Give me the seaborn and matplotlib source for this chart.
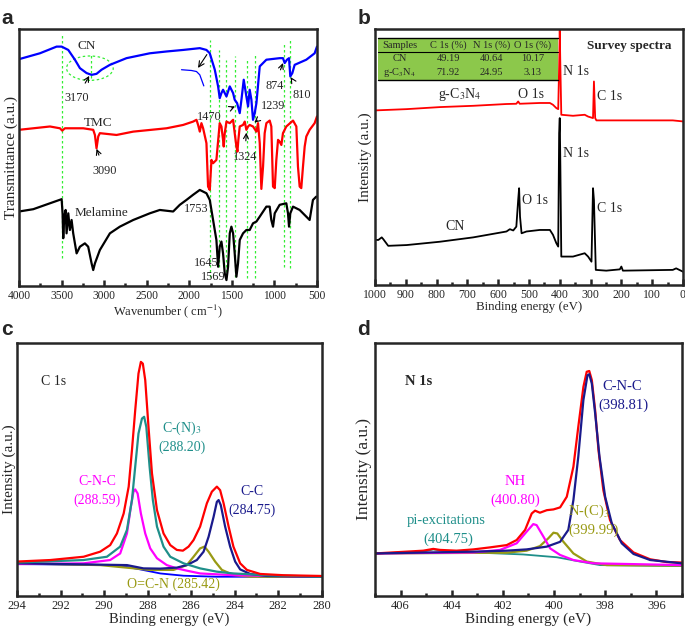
import numpy as np
import pandas as pd
import seaborn as sns
import matplotlib.pyplot as plt
from matplotlib.patches import Ellipse, Rectangle
from matplotlib.ticker import MultipleLocator

sns.set_style('ticks')
plt.rcParams['font.family'] = ['Liberation Serif', 'DejaVu Serif']
plt.rcParams['mathtext.fontset'] = 'stix'

# ---------------- panel a: FTIR ----------------
cn_wn = [4000, 3754, 3558, 3499, 3421, 3343, 3284, 3206, 3147, 3089, 3030, 2932, 2737, 2463, 2267, 2072,
         1876, 1798, 1759, 1700, 1661, 1642, 1622, 1603, 1563, 1524, 1485, 1466, 1438, 1407, 1387, 1360,
         1329, 1309, 1290, 1270, 1251, 1231, 1211, 1172, 1094, 938, 899, 879, 852, 828, 813, 789, 762, 625, 527, 500]
cn_tr = [88.3, 90.6, 93.2, 93.2, 91.9, 88.1, 84.8, 82.9, 82.2, 82.6, 84.2, 86.1, 88.7, 90.6, 91.3, 91.9,
         92.6, 91.9, 90.6, 84.2, 77.7, 73.1, 75.1, 76.4, 73.8, 77.7, 75.1, 72.5, 71.2, 67.3, 72.5, 80.3,
         73.8, 69.9, 76.4, 72.5, 64.7, 67.3, 71.2, 85.5, 88.1, 88.7, 88.7, 86.8, 88.1, 88.7, 81.6, 82.9, 86.1, 88.1, 90.6, 93.2]
cn_zoom_wn = [2091, 1974, 1915, 1876, 1829]
cn_zoom_tr = [84.2, 83.9, 83.5, 82.2, 77.9]

tmc_wn = [4000, 3832, 3636, 3519, 3492, 3460, 3245, 3128, 3108, 3089, 3069, 3050, 2854, 2658, 2267, 2072,
          1955, 1915, 1896, 1876, 1857, 1837, 1798, 1779, 1759, 1739, 1720, 1681, 1642, 1622, 1603, 1595,
          1583, 1563, 1524, 1485, 1466, 1446, 1434, 1423, 1407, 1368, 1348, 1329, 1309, 1290, 1251, 1211,
          1192, 1172, 1153, 1133, 1114, 1094, 1055, 1036, 1016, 996, 977, 957, 938, 918, 899, 860, 781,
          742, 723, 703, 684, 664, 644, 625, 586, 527, 500]
tmc_tr = [60.8, 61.4, 62.1, 61.4, 60.5, 61.4, 61.4, 60.8, 58.8, 53.6, 58.2, 59.5, 58.8, 60.1, 61.4, 62.7,
          64.0, 64.7, 62.7, 60.1, 63.4, 61.4, 55.6, 38.7, 37.4, 49.1, 47.8, 49.1, 63.4, 62.1, 56.9, 54.3,
          59.5, 64.0, 63.4, 64.7, 59.5, 54.3, 52.3, 56.9, 62.1, 62.7, 64.0, 60.8, 62.1, 62.7, 62.1, 60.1,
          63.4, 55.6, 37.8, 46.5, 59.5, 63.4, 64.4, 62.1, 38.7, 38.1, 49.1, 56.9, 56.2, 54.9, 59.5, 62.1, 64.4,
          62.1, 46.5, 38.7, 38.1, 46.5, 54.3, 58.2, 60.8, 63.4, 66.0]

mel_wn = [4000, 3832, 3636, 3499, 3488, 3480, 3468, 3452, 3441, 3421, 3402, 3382, 3363, 3323, 3284, 3226,
          3187, 3147, 3128, 3108, 3050, 2932, 2815, 2658, 2463, 2346, 2189, 2111, 2033, 1955, 1876, 1798,
          1759, 1720, 1681, 1661, 1642, 1622, 1603, 1583, 1563, 1544, 1524, 1505, 1485, 1466, 1446, 1427,
          1407, 1368, 1329, 1290, 1251, 1211, 1172, 1094, 1055, 1036, 1016, 996, 938, 860, 840, 828, 813,
          781, 703, 625, 586, 547, 508]
mel_tr = [29.0, 29.9, 32.2, 33.8, 28.3, 18.6, 27.0, 29.6, 20.5, 28.3, 21.8, 25.7, 20.5, 12.7, 15.3, 16.6,
          15.3, 8.8, 6.2, 8.8, 14.0, 20.5, 23.1, 25.7, 28.3, 29.6, 29.0, 31.6, 33.5, 35.5, 37.4, 36.1,
          33.5, 25.7, 17.9, 7.5, 15.3, 17.3, 12.7, 4.9, 2.3, 7.5, 20.5, 23.1, 20.5, 12.7, 3.6, 8.8,
          17.9, 20.5, 21.8, 21.8, 24.4, 25.1, 27.0, 30.9, 30.9, 25.7, 23.1, 28.3, 31.6, 32.2, 28.3, 23.1, 28.3,
          30.9, 29.6, 27.0, 25.7, 33.5, 34.8]

guide_wn = [3490, 1759, 1650, 1563, 1458, 1321, 1231, 887, 812]
guide_top = [98.4, 95.8, 91.9, 88.1, 89.4, 88.7, 90.6, 95.1, 95.8]
guide_bot = [10.8, 3.6, 7.5, 3.6, 3.6, 3.0, 3.0, 7.5, 6.9]

# (label, text x, text y, arrow tip x, arrow tip y or None)
ftir_marks = [('3170', 3323, 73.0, 3175, 81.8), ('3090', 2991, 44.8, 3089, 53.4),
              ('1470', 1760, 65.8, 1462, 69.9), ('1324', 1348, 50.2, 1329, 59.7),
              ('1239', 1010, 69.9, 1235, 63.6), ('874', 996, 78.0, 899, 86.8),
              ('810', 684, 74.5, 809, 81.3), ('1753', 1915, 29.9, None, None),
              ('1645', 1806, 8.8, None, None), ('1569', 1720, 3.6, None, None)]

# ---------------- panel b: XPS survey ----------------
gcn_be = [1000, 897, 789, 681, 573, 541, 535, 530, 465, 432, 422, 411, 405, 402, 400, 398, 395, 357, 319,
          308, 292, 289, 285, 281, 249, 141, 33, 0]
gcn_int = [68.2, 68.7, 69.5, 70.0, 70.7, 70.8, 71.7, 70.8, 71.1, 71.1, 70.4, 69.1, 68.7, 85.4, 99.5, 85.4, 66.5,
           66.1, 66.5, 65.8, 65.2, 79.5, 65.2, 64.3, 64.3, 64.3, 64.3, 63.9]
cns_be = [1000, 989, 978, 973, 957, 897, 789, 681, 573, 562, 551, 541, 535, 532, 529, 524, 508, 465, 432,
          422, 411, 405, 402, 400, 398, 395, 357, 319, 308, 297, 292, 289, 283, 249, 205, 200, 195, 33, 22, 0]
cns_int = [17.6, 17.6, 18.6, 17.9, 15.3, 15.6, 16.9, 18.6, 20.9, 21.8, 21.3, 22.8, 33.2, 37.8, 26.7, 20.2,
           20.9, 21.5, 21.5, 19.6, 16.3, 15.0, 59.3, 65.2, 46.3, 11.1, 11.1, 12.4, 11.1, 9.1, 37.8, 33.2,
           5.9, 5.6, 6.1, 7.2, 5.6, 5.9, 6.5, 5.2]

tbl_cols = ['Samples', 'C 1s (%)', 'N 1s (%)', 'O 1s (%)']
tbl_rows = [['CN', '49.19', '40.64', '10.17'],
            ['g-C$_3$N$_4$', '71.92', '24.95', '3.13']]

# ---------------- panel c: C 1s ----------------
c_env_be = [294.00, 292.47, 290.94, 290.18, 289.72, 289.41, 289.10, 288.87, 288.72, 288.57, 288.42, 288.31,
            288.22, 288.11, 287.96, 287.80, 287.57, 287.27, 286.96, 286.66, 286.38, 286.12, 285.89, 285.59,
            285.28, 285.05, 284.82, 284.67, 284.51, 284.28, 284.06, 283.75, 283.44, 282.83, 281.76, 280.00]
c_env = [13.6, 14.2, 15.5, 17.5, 20.1, 24.7, 32.6, 43.2, 57.6, 73.4, 87.9, 92.5, 91.8, 85.3, 66.8, 48.4,
         33.9, 24.7, 20.1, 18.2, 17.9, 19.5, 22.1, 27.4, 36.6, 41.2, 43.2, 41.8, 36.6, 27.4, 19.5, 12.9,
         10.3, 8.7, 8.2, 7.9]
c_cn3_be = [294.00, 290.94, 289.87, 289.26, 288.95, 288.72, 288.57, 288.42, 288.26, 288.16, 288.06, 287.91,
            287.76, 287.57, 287.27, 286.96, 286.35, 285.59, 284.82, 284.06, 282.52, 280.00]
c_cn3 = [13.2, 14.2, 15.5, 19.5, 26.1, 37.9, 51.1, 64.2, 70.1, 70.8, 66.8, 51.1, 37.9, 27.4, 19.5, 15.5,
         12.9, 10.9, 9.6, 8.9, 8.2, 7.6]
c_cnc_be = [294.00, 290.94, 289.72, 289.26, 288.95, 288.77, 288.65, 288.57, 288.46, 288.31, 288.11, 287.88,
            287.57, 287.12, 286.66, 286.20, 285.59, 284.06, 280.00]
c_cnc = [12.6, 12.9, 14.2, 16.8, 24.7, 35.3, 41.2, 42.1, 40.5, 32.6, 24.7, 18.8, 14.9, 12.2, 10.9, 10.0,
         8.9, 8.2, 7.6]
c_cc_be = [294.00, 288.95, 288.19, 287.42, 286.66, 286.20, 285.74, 285.43, 285.20, 284.97, 284.82, 284.74,
           284.64, 284.44, 284.21, 283.98, 283.75, 283.29, 282.52, 280.00]
c_cc = [12.9, 12.2, 10.9, 10.8, 11.2, 12.2, 14.2, 17.5, 23.4, 31.3, 37.2, 37.9, 35.9, 27.4, 19.5, 13.6,
        10.5, 8.7, 7.9, 7.6]
c_ocn_be = [294.00, 290.18, 287.88, 286.81, 286.20, 285.89, 285.59, 285.39, 285.20, 284.90, 284.59, 284.06,
            283.29, 280.00]
c_ocn = [12.9, 12.2, 10.3, 10.3, 12.2, 15.5, 18.8, 19.5, 17.5, 13.6, 10.3, 8.3, 7.6, 7.6]
c_bg_be = [294.00, 289.41, 288.34, 287.42, 286.35, 284.82, 280.00]
c_bg = [12.6, 12.2, 10.5, 8.9, 8.0, 7.6, 7.6]

# ---------------- panel d: N 1s ----------------
n_env_be = [407.00, 405.11, 404.72, 404.46, 403.81, 403.15, 402.50, 401.85, 401.46, 401.13, 400.87, 400.74,
            400.55, 400.28, 400.02, 399.76, 399.50, 399.24, 399.05, 398.85, 398.72, 398.62, 398.52, 398.39,
            398.26, 398.07, 397.81, 397.42, 396.89, 396.24, 395.59, 395.00]
n_env = [16.8, 17.9, 18.6, 18.2, 17.9, 18.4, 19.2, 20.1, 22.1, 26.1, 32.6, 33.7, 32.9, 33.9, 34.2, 35.0,
         39.2, 51.1, 66.8, 82.6, 88.6, 88.9, 85.3, 73.4, 57.6, 41.8, 30.0, 22.1, 17.2, 14.5, 13.4, 13.2]
n_cnc_be = [407.00, 403.15, 401.85, 401.07, 400.28, 399.76, 399.44, 399.24, 399.05, 398.85, 398.69, 398.62,
            398.52, 398.39, 398.22, 398.00, 397.74, 397.35, 396.89, 396.24, 395.00]
n_cnc = [16.8, 17.5, 17.9, 18.4, 19.5, 21.4, 26.1, 37.9, 55.0, 77.4, 87.2, 87.6, 83.9, 72.1, 55.0, 39.2,
         28.7, 20.8, 16.6, 14.2, 12.9]
n_nh_be = [407.00, 403.15, 402.11, 401.46, 401.07, 400.81, 400.68, 400.41, 400.15, 399.76, 399.24, 398.46, 395.00]
n_nh = [16.8, 17.2, 18.2, 20.8, 25.4, 28.4, 28.0, 23.4, 18.8, 16.2, 14.2, 12.9, 12.2]
n_nc3_be = [407.00, 401.85, 401.07, 400.55, 400.22, 400.02, 399.87, 399.63, 399.24, 398.72, 397.94, 395.00]
n_nc3 = [16.8, 17.1, 17.9, 19.7, 22.8, 25.0, 24.7, 21.4, 16.8, 13.6, 12.2, 12.0]
n_pi_be = [407.00, 405.11, 404.72, 404.33, 403.15, 401.20, 399.89, 398.98, 398.20, 395.00]
n_pi = [16.8, 17.5, 18.4, 17.8, 17.2, 16.4, 15.3, 13.6, 12.2, 11.8]

RED, BLUE, NAVY, TEAL, MAG, OLIVE = '#ff0000', '#0000ff', '#1a1a8c', '#1f8f8a', '#ff00ff', '#999a14'
GREEN = '#33ee33'


def line(ax, x, y, color, lw=1.6):
    sns.lineplot(x=x, y=y, ax=ax, color=color, lw=lw, sort=False, estimator=None)


def frame(ax, xlim, major, minor, xlabel, ylabel, tsize, xsize, ysize, ypad=2):
    ax.set_xlim(*xlim)
    ax.set_ylim(0, 100)
    ax.xaxis.set_major_locator(MultipleLocator(major))
    ax.xaxis.set_minor_locator(MultipleLocator(minor))
    ax.tick_params(axis='x', which='both', direction='in', top=False, labelsize=tsize, pad=3, width=1.8)
    ax.tick_params(axis='x', which='major', length=4)
    ax.tick_params(axis='x', which='minor', length=2.5)
    ax.set_yticks([])
    for s in ax.spines.values():
        s.set_visible(True)
        s.set_linewidth(1.8)
    ax.set_xlabel(xlabel, fontsize=xsize, labelpad=0)
    ax.set_ylabel(ylabel, fontsize=ysize, labelpad=ypad)


fig = plt.figure(figsize=(6.85, 6.28), dpi=100)
ax_a = fig.add_axes([0.0277, 0.5446, 0.435, 0.409])
ax_b = fig.add_axes([0.5474, 0.5462, 0.4496, 0.4076])
ax_c = fig.add_axes([0.0248, 0.051, 0.445, 0.403])
ax_d = fig.add_axes([0.5474, 0.051, 0.448, 0.403])

# ---- a ----
for xw, yt, yb in zip(guide_wn, guide_top, guide_bot):
    ax_a.plot([xw, xw], [yb, yt], color=GREEN, lw=0.9, ls=(0, (2, 2)))
ax_a.plot([3159, 3159], [80.9, 90.6], color=GREEN, lw=0.9, ls=(0, (2, 2)))
ax_a.add_patch(Ellipse((3167, 84.8), 548, 9.5, fill=False, ec=GREEN, lw=0.9, ls=(0, (2, 2))))
line(ax_a, cn_wn, cn_tr, BLUE)
line(ax_a, cn_zoom_wn, cn_zoom_tr, BLUE, lw=0.9)
line(ax_a, tmc_wn, tmc_tr, RED)
line(ax_a, mel_wn, mel_tr, 'black')
ax_a.annotate('', xy=(1915, 84.0), xytext=(1775, 91.0),
              arrowprops=dict(arrowstyle='->', color='black', lw=0.8))
for lab, tx, ty, px, py in ftir_marks:
    if px is None:
        ax_a.text(tx, ty, lab, fontsize=8.8, ha='center', va='center')
    else:
        ax_a.annotate(lab, xy=(px, py), xytext=(tx, ty), fontsize=8.8, ha='center', va='center',
                      arrowprops=dict(arrowstyle='->', color='black', lw=0.8, shrinkA=5, shrinkB=0))
ax_a.text(3206, 93.5, 'CN', fontsize=9.5, ha='center', va='center')
ax_a.text(3069, 63.6, 'TMC', fontsize=9.5, ha='center', va='center')
ax_a.text(3030, 28.3, 'Melamine', fontsize=9.5, ha='center', va='center')
frame(ax_a, (4000, 500), 500, 250, 'Wavenumber ( cm$^{-1}$)', 'Transmittance (a.u.)', 8.3, 9, 11, ypad=1)

# ---- b ----
line(ax_b, gcn_be, gcn_int, RED, lw=1.3)
line(ax_b, cns_be, cns_int, 'black', lw=1.3)
ax_b.add_patch(Rectangle((989, 80.2), -584, 16.3, facecolor='#8cc84b', edgecolor='none', zorder=3))
for yl, w in [(96.5, 1.0), (90.9, 0.8), (80.2, 1.0)]:
    ax_b.plot([989, 405], [yl, yl], color='black', lw=w, zorder=4)
col_x = [919, 762, 622, 487]
for cx, h in zip(col_x, tbl_cols):
    ax_b.text(cx, 93.6, h, fontsize=7.5, ha='center', va='center', zorder=5)
for ry, row in zip([88.3, 83.2], tbl_rows):
    for cx, v in zip(col_x, row):
        ax_b.text(cx, ry, v, fontsize=7.5, ha='center', va='center', zorder=5)
ax_b.text(173, 93.5, 'Survey spectra', fontsize=9.5, weight='bold', ha='center', va='center')
ax_b.text(389, 83.4, 'N 1s', fontsize=10, ha='left', va='center')
ax_b.text(278, 73.7, 'C 1s', fontsize=10, ha='left', va='center')
ax_b.text(724, 74.5, 'g-C$_3$N$_4$', fontsize=10, ha='center', va='center')
ax_b.text(492, 74.5, 'O 1s', fontsize=10, ha='center', va='center')
ax_b.text(391, 51.5, 'N 1s', fontsize=10, ha='left', va='center')
ax_b.text(521, 33.2, 'O 1s', fontsize=10, ha='left', va='center')
ax_b.text(278, 30.0, 'C 1s', fontsize=10, ha='left', va='center')
ax_b.text(741, 22.8, 'CN', fontsize=10, ha='center', va='center')
frame(ax_b, (1000, 0), 100, 50, 'Binding energy (eV)', 'Intensity (a.u.)', 8.5, 9.3, 11)

# ---- c ----
line(ax_c, c_bg_be, c_bg, BLUE, lw=1.3)
line(ax_c, c_ocn_be, c_ocn, OLIVE)
line(ax_c, c_cnc_be, c_cnc, MAG)
line(ax_c, c_cc_be, c_cc, NAVY)
line(ax_c, c_cn3_be, c_cn3, TEAL)
line(ax_c, c_env_be, c_env, RED)
ax_c.text(292.32, 84.6, 'C 1s', fontsize=10, ha='center', va='center')
ax_c.text(286.43, 66.4, 'C-(N)$_3$', fontsize=10, color=TEAL, ha='center', va='center')
ax_c.text(286.43, 58.9, '(288.20)', fontsize=10, color=TEAL, ha='center', va='center')
ax_c.text(290.33, 45.1, 'C-N-C', fontsize=10, color=MAG, ha='center', va='center')
ax_c.text(290.33, 37.9, '(288.59)', fontsize=10, color=MAG, ha='center', va='center')
ax_c.text(283.21, 41.2, 'C-C', fontsize=10, color=NAVY, ha='center', va='center')
ax_c.text(283.21, 33.7, '(284.75)', fontsize=10, color=NAVY, ha='center', va='center')
ax_c.text(286.81, 4.7, 'O=C-N (285.42)', fontsize=10, color=OLIVE, ha='center', va='center')
frame(ax_c, (294, 280), 2, 1, 'Binding energy (eV)', 'Intensity (a.u.)', 9, 10.5, 11, ypad=0.5)

# ---- d ----
line(ax_d, n_pi_be, n_pi, TEAL, lw=1.3)
line(ax_d, n_nc3_be, n_nc3, OLIVE)
line(ax_d, n_nh_be, n_nh, MAG)
line(ax_d, n_env_be, n_env, RED)
line(ax_d, n_cnc_be, n_cnc, NAVY)
ax_d.text(405.3, 84.6, 'N 1s', fontsize=10.5, weight='bold', ha='center', va='center')
ax_d.text(397.35, 82.6, 'C-N-C', fontsize=10.5, color=NAVY, ha='center', va='center')
ax_d.text(397.29, 75.4, '(398.81)', fontsize=10.5, color=NAVY, ha='center', va='center')
ax_d.text(401.52, 45.1, 'NH', fontsize=10.5, color=MAG, ha='center', va='center')
ax_d.text(401.52, 37.9, '(400.80)', fontsize=10.5, color=MAG, ha='center', va='center')
ax_d.text(398.65, 33.5, 'N-(C)$_3$', fontsize=10.5, color=OLIVE, ha='center', va='center')
ax_d.text(398.46, 26.1, '(399.99)', fontsize=10.5, color=OLIVE, ha='center', va='center')
ax_d.text(404.2, 30.0, 'pi-excitations', fontsize=10.5, color=TEAL, ha='center', va='center')
ax_d.text(404.13, 22.4, '(404.75)', fontsize=10.5, color=TEAL, ha='center', va='center')
frame(ax_d, (407, 395), 2, 1, 'Binding energy (eV)', 'Intensity (a.u.)', 9, 11, 12.5)

# panel letters
for lab, x, y in [('a', 0.002, 0.985), ('b', 0.522, 0.985), ('c', 0.002, 0.49), ('d', 0.522, 0.49)]:
    fig.text(x, y, lab, fontsize=15, weight='bold', family='Liberation Sans', ha='left', va='top')

fig.savefig('out.png', dpi=100)
